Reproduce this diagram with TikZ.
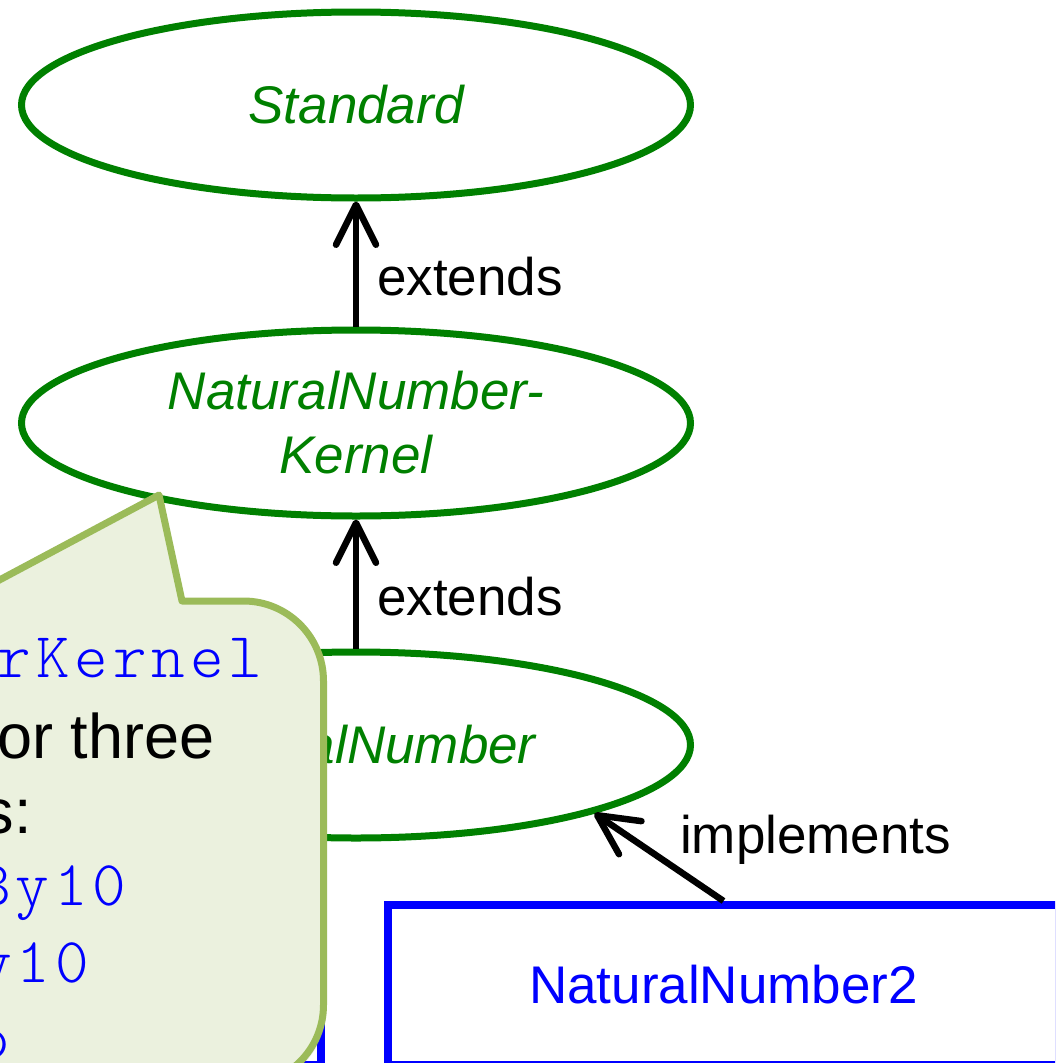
\documentclass[tikz,border=0pt]{standalone}
\usepackage{fontspec}
\setmainfont{Liberation Sans}
\newfontfamily\codefont{lmmonolt10-regular.otf}[LetterSpace=7.7]
\usetikzlibrary{shapes.geometric,arrows.meta,shadows}
\definecolor{nodegreen}{HTML}{008000}
\definecolor{codeblue}{HTML}{0000FF}
\definecolor{calloutfill}{HTML}{EBF1DE}
\definecolor{calloutline}{HTML}{9BBB59}
\begin{document}
\begin{tikzpicture}[x=1pt,y=-1pt,
  iface/.style={ellipse, draw=nodegreen, line width=7pt, text=nodegreen,
    minimum width=669pt, minimum height=186pt, inner sep=0pt,
    font={\fontsize{53}{64}\selectfont\itshape}, align=center},
  impl/.style={rectangle, draw=codeblue, line width=8pt, text=codeblue,
    inner sep=0pt, minimum width=671pt, minimum height=160pt,
    font={\fontsize{53}{64}\selectfont}},
  rel/.style={line width=6.5pt, -{Straight Barb[length=40pt,width=40pt,round]}},
  rellabel/.style={anchor=base west, inner sep=0pt, font={\fontsize{53}{64}\selectfont}},
  callout/.style={fill=calloutfill, draw=calloutline, line width=7pt, line join=round,
    drop shadow={opacity=0.15, shadow xshift=3pt, shadow yshift=-3pt}},
  codetext/.style={anchor=base west, inner sep=0pt, text=codeblue,
    font={\codefont\fontsize{64}{70}\selectfont}},
  prose/.style={anchor=base west, inner sep=0pt, text=black,
    font={\fontsize{63}{70}\selectfont}}
]
\useasboundingbox (0,0) rectangle (1055,1063);
\clip (0,0) rectangle (1055,1063);

% interfaces
\node[iface] (std) at (356,105) {Standard};
\node[iface] (nnk) at (356,423) {NaturalNumber-\\Kernel};
\node[iface] (nn) at (356,745) {NaturalNumber};

% implementations
\node[impl] (nn2) at (723.5,985) {NaturalNumber2};
\node[impl] (nn1) at (-14.5,985) {};

% relations
\draw[rel] (nnk.north) -- (std.south);
\node[rellabel] (ext1) at (377,295) {extends};
\draw[rel] (nn.north) -- (nnk.south);
\node[rellabel] (ext2) at (377,615) {extends};
\draw[rel] (nn2.north) -- (nn.-16);
\node[rellabel] (implab) at (680,853) {implements};

% callout
\draw[callout] (-200,601) -- (-40,601) -- (159,495) -- (182,601) -- (243.5,601)
  .. controls (287.7,601) and (323.5,636.8) .. (323.5,681)
  -- (323.5,1005)
  .. controls (323.5,1049.2) and (287.7,1085) .. (243.5,1085)
  -- (-200,1085) -- cycle;

\node[codetext] (c1) at (-2.6,677) {rKernel};
\node[prose] (c2) at (-3,758) {or three};
\node[prose] (c3) at (-17.5,833) {s:};
\node[codetext] (c4) at (-23,905) {By10};
\node[codetext] (c5) at (-22,982) {y10};
\node[codetext] (c6) at (-23.5,1058) {o};
\end{tikzpicture}
\end{document}
